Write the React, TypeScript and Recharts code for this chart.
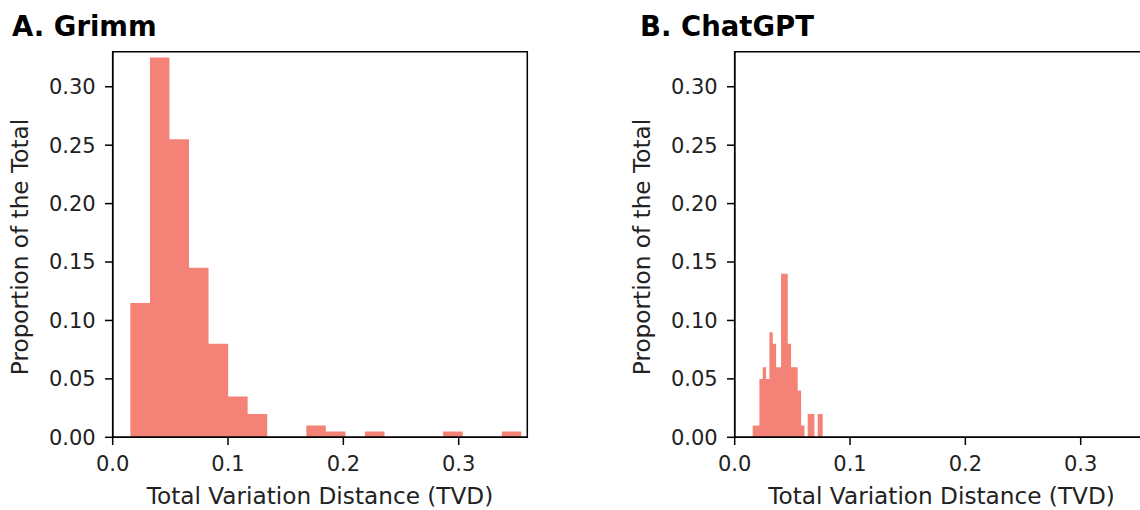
import { AreaChart, Area, XAxis, YAxis, ReferenceArea } from 'recharts'

// histogram bins (proportion of the total per TVD bin)
const grimmBinEdges = [
    0.0153, 0.0323, 0.0492, 0.0662, 0.0831, 0.1001, 0.117, 0.134, 0.1509, 0.1679, 0.1848,
    0.2018, 0.2187, 0.2357, 0.2526, 0.2696, 0.2865, 0.3035, 0.3204, 0.3374, 0.3543,
]
const grimmProportions = [
    0.115, 0.325, 0.255, 0.145, 0.08, 0.035, 0.02, 0, 0, 0.01, 0.005, 0, 0.005, 0, 0, 0, 0.005, 0, 0, 0.005,
]

const chatgptBinEdges = [
    0.0156, 0.0214, 0.0243, 0.0272, 0.0301, 0.033, 0.0359, 0.0402, 0.046, 0.0489, 0.0546, 0.0576,
    0.0605, 0.0633, 0.0691, 0.072, 0.0763,
]
const chatgptProportions = [0.01, 0.05, 0.06, 0.05, 0.09, 0.08, 0.06, 0.14, 0.08, 0.06, 0.04, 0.01, 0, 0.02, 0, 0.02]

const xTicks = [0, 0.1, 0.2, 0.3]
const yTicks = [0, 0.05, 0.1, 0.15, 0.2, 0.25, 0.3]

const X_MAX = 0.3595
const Y_MAX = 0.33
const BAR_COLOR = '#F58276'
const FONT = 'DejaVu Sans'

// step points: each edge carries the height of the bin to its right, last edge drops to 0
const toSteps = (edges: number[], values: number[]) =>
    edges.map((x, i) => ({ x, p: i < values.length ? values[i] : 0 }))

const Histogram = ({ edges, values }: { edges: number[]; values: number[] }) => {
    const data = toSteps(edges, values)
    const axisStroke = { stroke: '#000', strokeWidth: 1.5 }
    const tick = { fill: '#222', fontSize: 21, fontFamily: FONT }
    return (
        <AreaChart width={560} height={510} data={data} margin={{ top: 51.7, right: 32.7, bottom: 12.7, left: 12.7 }}>
            <XAxis
                dataKey="x"
                type="number"
                domain={[0, X_MAX]}
                ticks={xTicks}
                interval={0}
                allowDataOverflow
                height={60}
                tickSize={7.7}
                tickMargin={11.5}
                axisLine={axisStroke}
                tickLine={axisStroke}
                tick={tick}
                tickFormatter={(v: number) => v.toFixed(1)}
            />
            <YAxis
                type="number"
                domain={[0, Y_MAX]}
                ticks={yTicks}
                interval={0}
                allowDataOverflow
                width={100}
                tickSize={7.7}
                tickMargin={9.3}
                axisLine={axisStroke}
                tickLine={axisStroke}
                tick={tick}
                tickFormatter={(v: number) => v.toFixed(2)}
            />
            <Area
                type="stepAfter"
                dataKey="p"
                baseValue={0}
                fill={BAR_COLOR}
                fillOpacity={1}
                stroke="none"
                dot={false}
                activeDot={false}
                isAnimationActive={false}
            />
            <ReferenceArea x1={0} x2={X_MAX} y1={0} y2={Y_MAX} fill="none" stroke="#000" strokeWidth={1.5} />
        </AreaChart>
    )
}

const App = () => {
    const title = { fontFamily: FONT, fontWeight: 'bold' as const, fontSize: 27.5, fill: '#000' }
    const label = { fontFamily: FONT, fontSize: 23.2, fill: '#222' }
    return (
        <div style={{ position: 'fixed', left: 0, top: 0, width: 1140, height: 510, overflow: 'hidden', background: '#fff' }}>
            <div style={{ position: 'absolute', left: 0, top: 0 }}>
                <Histogram edges={grimmBinEdges} values={grimmProportions} />
            </div>
            <div style={{ position: 'absolute', left: 621.6, top: 0 }}>
                <Histogram edges={chatgptBinEdges} values={chatgptProportions} />
            </div>
            <svg width={1140} height={510} style={{ position: 'absolute', left: 0, top: 0, pointerEvents: 'none' }}>
                <text x={12} y={36} {...title}>A. Grimm</text>
                <text x={640} y={36} {...title}>B. ChatGPT</text>
                <text x={320} y={503.5} textAnchor="middle" {...label}>Total Variation Distance (TVD)</text>
                <text x={941.6} y={503.5} textAnchor="middle" {...label}>Total Variation Distance (TVD)</text>
                <text x={28.3} y={247} textAnchor="middle" transform="rotate(-90 28.3 247)" {...label}>Proportion of the Total</text>
                <text x={649.9} y={247} textAnchor="middle" transform="rotate(-90 649.9 247)" {...label}>Proportion of the Total</text>
            </svg>
        </div>
    )
}

export default App
